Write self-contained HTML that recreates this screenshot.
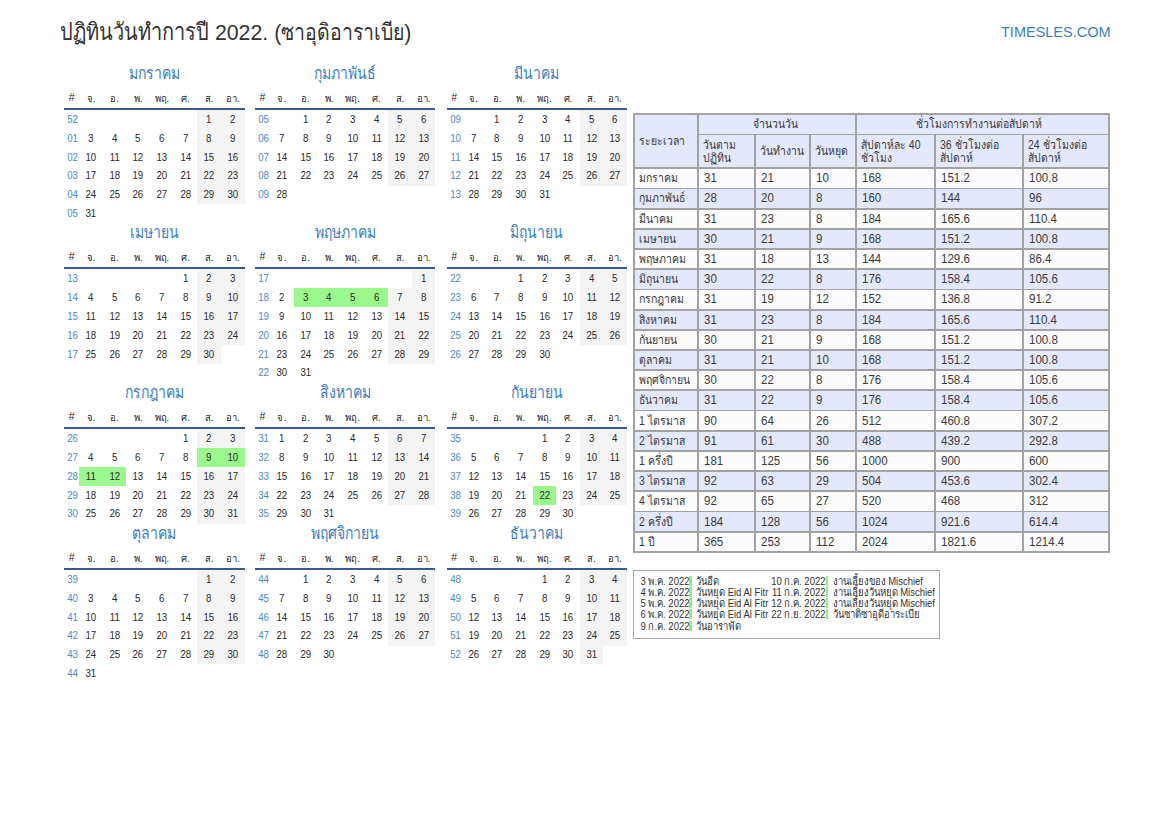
<!DOCTYPE html>
<html><head><meta charset="utf-8">
<style>
html,body{margin:0;padding:0;background:#fff;}
body{width:1169px;height:827px;position:relative;overflow:hidden;font-family:"Liberation Sans",sans-serif;color:#222;}
.th{display:inline-block;transform:scaleY(1.18);transform-origin:0 75%;}
.title{position:absolute;left:60px;top:18px;font-size:20px;line-height:30px;color:#333;white-space:nowrap;}
.la{font-size:21.3px;}
.t2{font-size:19.5px;}
.brand{position:absolute;left:1001px;top:23px;font-size:14.5px;color:#3a7fc1;white-space:nowrap;transform:scaleY(1.06);transform-origin:0 0;}
.mt{position:absolute;text-align:center;font-size:14px;color:#3d7ec2;line-height:20px;white-space:nowrap;}
.hd{position:absolute;text-align:center;font-size:9.5px;color:#2a2a2a;line-height:14px;white-space:nowrap;}
.hs{font-size:10.5px;}
.hth{display:inline-block;transform:scaleY(1.1);transform-origin:0 75%;}
.ln{position:absolute;height:2.2px;background:#3a5a8c;}
.wk{position:absolute;text-align:center;font-size:11px;color:#4a8bc8;line-height:18.8px;height:18.8px;transform:scaleX(.88);}
.dy{position:absolute;text-align:center;font-size:11px;color:#2a2a2a;line-height:18.8px;height:18.8px;transform:scaleX(.88);}
.we{position:absolute;height:19.3px;background:#f4f4f4;}
.ho{position:absolute;height:19.3px;background:#9af88c;}
.tb{position:absolute;}
.hb{background:#e4e8fc;}
.wb{background:#fcfcfc;}
.rb{background:#e4e8fc;}
.tl{position:absolute;background:#a2a2a2;}
.tt{position:absolute;font-size:12px;color:#3a3a3a;white-space:nowrap;transform:scaleX(.96);transform-origin:0 50%;}
.tt .th{font-size:10.5px;transform:scale(1.04,1.15);}
.tc{text-align:center;}
.h2{line-height:13.5px;}
.legend{position:absolute;left:632.5px;top:569.5px;width:307px;height:69.5px;border:1.5px solid #a8a8a8;box-sizing:border-box;}
.ld{position:absolute;font-size:9.5px;text-align:right;color:#333;line-height:11px;white-space:nowrap;transform:scaleY(1.2);transform-origin:0 80%;}
.lt{position:absolute;font-size:9.5px;color:#333;line-height:11px;white-space:nowrap;transform:scaleY(1.2);transform-origin:0 80%;}
.ea{}
.lb{position:absolute;width:2.5px;height:10px;background:#8ef07e;}
</style></head><body>
<div class="title"><span class="th">ปฏิทินวันทำการปี</span><span class="la"> 2022. (</span><span class="th t2">ซาอุดิอาราเบีย</span><span class="la">)</span></div>
<div class="brand">TIMESLES.COM</div>
<div class="mt" style="left:64px;top:64px;width:180.6px"><span class="th">มกราคม</span></div>
<div class="hd hs" style="left:64px;top:90px;width:15.2px">#</div>
<div class="hd" style="left:79.20px;top:91.5px;width:23.63px"><span class="hth">จ.</span></div>
<div class="hd" style="left:102.83px;top:91.5px;width:23.63px"><span class="hth">อ.</span></div>
<div class="hd" style="left:126.46px;top:91.5px;width:23.63px"><span class="hth">พ.</span></div>
<div class="hd" style="left:150.09px;top:91.5px;width:23.63px"><span class="hth">พฤ.</span></div>
<div class="hd" style="left:173.71px;top:91.5px;width:23.63px"><span class="hth">ศ.</span></div>
<div class="hd" style="left:197.34px;top:91.5px;width:23.63px"><span class="hth">ส.</span></div>
<div class="hd" style="left:220.97px;top:91.5px;width:23.63px"><span class="hth">อา.</span></div>
<div class="ln" style="left:64px;top:108px;width:180.6px"></div>
<div class="wk" style="left:65px;top:110.00px;width:15.2px">52</div>
<div class="we" style="left:197.34px;top:110.00px;width:23.63px"></div>
<div class="dy" style="left:197.34px;top:110.00px;width:23.63px">1</div>
<div class="we" style="left:220.97px;top:110.00px;width:23.63px"></div>
<div class="dy" style="left:220.97px;top:110.00px;width:23.63px">2</div>
<div class="wk" style="left:65px;top:128.80px;width:15.2px">01</div>
<div class="dy" style="left:79.20px;top:128.80px;width:23.63px">3</div>
<div class="dy" style="left:102.83px;top:128.80px;width:23.63px">4</div>
<div class="dy" style="left:126.46px;top:128.80px;width:23.63px">5</div>
<div class="dy" style="left:150.09px;top:128.80px;width:23.63px">6</div>
<div class="dy" style="left:173.71px;top:128.80px;width:23.63px">7</div>
<div class="we" style="left:197.34px;top:128.80px;width:23.63px"></div>
<div class="dy" style="left:197.34px;top:128.80px;width:23.63px">8</div>
<div class="we" style="left:220.97px;top:128.80px;width:23.63px"></div>
<div class="dy" style="left:220.97px;top:128.80px;width:23.63px">9</div>
<div class="wk" style="left:65px;top:147.60px;width:15.2px">02</div>
<div class="dy" style="left:79.20px;top:147.60px;width:23.63px">10</div>
<div class="dy" style="left:102.83px;top:147.60px;width:23.63px">11</div>
<div class="dy" style="left:126.46px;top:147.60px;width:23.63px">12</div>
<div class="dy" style="left:150.09px;top:147.60px;width:23.63px">13</div>
<div class="dy" style="left:173.71px;top:147.60px;width:23.63px">14</div>
<div class="we" style="left:197.34px;top:147.60px;width:23.63px"></div>
<div class="dy" style="left:197.34px;top:147.60px;width:23.63px">15</div>
<div class="we" style="left:220.97px;top:147.60px;width:23.63px"></div>
<div class="dy" style="left:220.97px;top:147.60px;width:23.63px">16</div>
<div class="wk" style="left:65px;top:166.40px;width:15.2px">03</div>
<div class="dy" style="left:79.20px;top:166.40px;width:23.63px">17</div>
<div class="dy" style="left:102.83px;top:166.40px;width:23.63px">18</div>
<div class="dy" style="left:126.46px;top:166.40px;width:23.63px">19</div>
<div class="dy" style="left:150.09px;top:166.40px;width:23.63px">20</div>
<div class="dy" style="left:173.71px;top:166.40px;width:23.63px">21</div>
<div class="we" style="left:197.34px;top:166.40px;width:23.63px"></div>
<div class="dy" style="left:197.34px;top:166.40px;width:23.63px">22</div>
<div class="we" style="left:220.97px;top:166.40px;width:23.63px"></div>
<div class="dy" style="left:220.97px;top:166.40px;width:23.63px">23</div>
<div class="wk" style="left:65px;top:185.20px;width:15.2px">04</div>
<div class="dy" style="left:79.20px;top:185.20px;width:23.63px">24</div>
<div class="dy" style="left:102.83px;top:185.20px;width:23.63px">25</div>
<div class="dy" style="left:126.46px;top:185.20px;width:23.63px">26</div>
<div class="dy" style="left:150.09px;top:185.20px;width:23.63px">27</div>
<div class="dy" style="left:173.71px;top:185.20px;width:23.63px">28</div>
<div class="we" style="left:197.34px;top:185.20px;width:23.63px"></div>
<div class="dy" style="left:197.34px;top:185.20px;width:23.63px">29</div>
<div class="we" style="left:220.97px;top:185.20px;width:23.63px"></div>
<div class="dy" style="left:220.97px;top:185.20px;width:23.63px">30</div>
<div class="wk" style="left:65px;top:204.00px;width:15.2px">05</div>
<div class="dy" style="left:79.20px;top:204.00px;width:23.63px">31</div>
<div class="mt" style="left:254.8px;top:64px;width:180.6px"><span class="th">กุมภาพันธ์</span></div>
<div class="hd hs" style="left:254.8px;top:90px;width:15.2px">#</div>
<div class="hd" style="left:270.00px;top:91.5px;width:23.63px"><span class="hth">จ.</span></div>
<div class="hd" style="left:293.63px;top:91.5px;width:23.63px"><span class="hth">อ.</span></div>
<div class="hd" style="left:317.26px;top:91.5px;width:23.63px"><span class="hth">พ.</span></div>
<div class="hd" style="left:340.89px;top:91.5px;width:23.63px"><span class="hth">พฤ.</span></div>
<div class="hd" style="left:364.51px;top:91.5px;width:23.63px"><span class="hth">ศ.</span></div>
<div class="hd" style="left:388.14px;top:91.5px;width:23.63px"><span class="hth">ส.</span></div>
<div class="hd" style="left:411.77px;top:91.5px;width:23.63px"><span class="hth">อา.</span></div>
<div class="ln" style="left:254.8px;top:108px;width:180.6px"></div>
<div class="wk" style="left:255.8px;top:110.00px;width:15.2px">05</div>
<div class="dy" style="left:293.63px;top:110.00px;width:23.63px">1</div>
<div class="dy" style="left:317.26px;top:110.00px;width:23.63px">2</div>
<div class="dy" style="left:340.89px;top:110.00px;width:23.63px">3</div>
<div class="dy" style="left:364.51px;top:110.00px;width:23.63px">4</div>
<div class="we" style="left:388.14px;top:110.00px;width:23.63px"></div>
<div class="dy" style="left:388.14px;top:110.00px;width:23.63px">5</div>
<div class="we" style="left:411.77px;top:110.00px;width:23.63px"></div>
<div class="dy" style="left:411.77px;top:110.00px;width:23.63px">6</div>
<div class="wk" style="left:255.8px;top:128.80px;width:15.2px">06</div>
<div class="dy" style="left:270.00px;top:128.80px;width:23.63px">7</div>
<div class="dy" style="left:293.63px;top:128.80px;width:23.63px">8</div>
<div class="dy" style="left:317.26px;top:128.80px;width:23.63px">9</div>
<div class="dy" style="left:340.89px;top:128.80px;width:23.63px">10</div>
<div class="dy" style="left:364.51px;top:128.80px;width:23.63px">11</div>
<div class="we" style="left:388.14px;top:128.80px;width:23.63px"></div>
<div class="dy" style="left:388.14px;top:128.80px;width:23.63px">12</div>
<div class="we" style="left:411.77px;top:128.80px;width:23.63px"></div>
<div class="dy" style="left:411.77px;top:128.80px;width:23.63px">13</div>
<div class="wk" style="left:255.8px;top:147.60px;width:15.2px">07</div>
<div class="dy" style="left:270.00px;top:147.60px;width:23.63px">14</div>
<div class="dy" style="left:293.63px;top:147.60px;width:23.63px">15</div>
<div class="dy" style="left:317.26px;top:147.60px;width:23.63px">16</div>
<div class="dy" style="left:340.89px;top:147.60px;width:23.63px">17</div>
<div class="dy" style="left:364.51px;top:147.60px;width:23.63px">18</div>
<div class="we" style="left:388.14px;top:147.60px;width:23.63px"></div>
<div class="dy" style="left:388.14px;top:147.60px;width:23.63px">19</div>
<div class="we" style="left:411.77px;top:147.60px;width:23.63px"></div>
<div class="dy" style="left:411.77px;top:147.60px;width:23.63px">20</div>
<div class="wk" style="left:255.8px;top:166.40px;width:15.2px">08</div>
<div class="dy" style="left:270.00px;top:166.40px;width:23.63px">21</div>
<div class="dy" style="left:293.63px;top:166.40px;width:23.63px">22</div>
<div class="dy" style="left:317.26px;top:166.40px;width:23.63px">23</div>
<div class="dy" style="left:340.89px;top:166.40px;width:23.63px">24</div>
<div class="dy" style="left:364.51px;top:166.40px;width:23.63px">25</div>
<div class="we" style="left:388.14px;top:166.40px;width:23.63px"></div>
<div class="dy" style="left:388.14px;top:166.40px;width:23.63px">26</div>
<div class="we" style="left:411.77px;top:166.40px;width:23.63px"></div>
<div class="dy" style="left:411.77px;top:166.40px;width:23.63px">27</div>
<div class="wk" style="left:255.8px;top:185.20px;width:15.2px">09</div>
<div class="dy" style="left:270.00px;top:185.20px;width:23.63px">28</div>
<div class="mt" style="left:446.6px;top:64px;width:180.3px"><span class="th">มีนาคม</span></div>
<div class="hd hs" style="left:446.6px;top:90px;width:15.2px">#</div>
<div class="hd" style="left:461.80px;top:91.5px;width:23.59px"><span class="hth">จ.</span></div>
<div class="hd" style="left:485.39px;top:91.5px;width:23.59px"><span class="hth">อ.</span></div>
<div class="hd" style="left:508.97px;top:91.5px;width:23.59px"><span class="hth">พ.</span></div>
<div class="hd" style="left:532.56px;top:91.5px;width:23.59px"><span class="hth">พฤ.</span></div>
<div class="hd" style="left:556.14px;top:91.5px;width:23.59px"><span class="hth">ศ.</span></div>
<div class="hd" style="left:579.73px;top:91.5px;width:23.59px"><span class="hth">ส.</span></div>
<div class="hd" style="left:603.31px;top:91.5px;width:23.59px"><span class="hth">อา.</span></div>
<div class="ln" style="left:446.6px;top:108px;width:180.3px"></div>
<div class="wk" style="left:447.6px;top:110.00px;width:15.2px">09</div>
<div class="dy" style="left:485.39px;top:110.00px;width:23.59px">1</div>
<div class="dy" style="left:508.97px;top:110.00px;width:23.59px">2</div>
<div class="dy" style="left:532.56px;top:110.00px;width:23.59px">3</div>
<div class="dy" style="left:556.14px;top:110.00px;width:23.59px">4</div>
<div class="we" style="left:579.73px;top:110.00px;width:23.59px"></div>
<div class="dy" style="left:579.73px;top:110.00px;width:23.59px">5</div>
<div class="we" style="left:603.31px;top:110.00px;width:23.59px"></div>
<div class="dy" style="left:603.31px;top:110.00px;width:23.59px">6</div>
<div class="wk" style="left:447.6px;top:128.80px;width:15.2px">10</div>
<div class="dy" style="left:461.80px;top:128.80px;width:23.59px">7</div>
<div class="dy" style="left:485.39px;top:128.80px;width:23.59px">8</div>
<div class="dy" style="left:508.97px;top:128.80px;width:23.59px">9</div>
<div class="dy" style="left:532.56px;top:128.80px;width:23.59px">10</div>
<div class="dy" style="left:556.14px;top:128.80px;width:23.59px">11</div>
<div class="we" style="left:579.73px;top:128.80px;width:23.59px"></div>
<div class="dy" style="left:579.73px;top:128.80px;width:23.59px">12</div>
<div class="we" style="left:603.31px;top:128.80px;width:23.59px"></div>
<div class="dy" style="left:603.31px;top:128.80px;width:23.59px">13</div>
<div class="wk" style="left:447.6px;top:147.60px;width:15.2px">11</div>
<div class="dy" style="left:461.80px;top:147.60px;width:23.59px">14</div>
<div class="dy" style="left:485.39px;top:147.60px;width:23.59px">15</div>
<div class="dy" style="left:508.97px;top:147.60px;width:23.59px">16</div>
<div class="dy" style="left:532.56px;top:147.60px;width:23.59px">17</div>
<div class="dy" style="left:556.14px;top:147.60px;width:23.59px">18</div>
<div class="we" style="left:579.73px;top:147.60px;width:23.59px"></div>
<div class="dy" style="left:579.73px;top:147.60px;width:23.59px">19</div>
<div class="we" style="left:603.31px;top:147.60px;width:23.59px"></div>
<div class="dy" style="left:603.31px;top:147.60px;width:23.59px">20</div>
<div class="wk" style="left:447.6px;top:166.40px;width:15.2px">12</div>
<div class="dy" style="left:461.80px;top:166.40px;width:23.59px">21</div>
<div class="dy" style="left:485.39px;top:166.40px;width:23.59px">22</div>
<div class="dy" style="left:508.97px;top:166.40px;width:23.59px">23</div>
<div class="dy" style="left:532.56px;top:166.40px;width:23.59px">24</div>
<div class="dy" style="left:556.14px;top:166.40px;width:23.59px">25</div>
<div class="we" style="left:579.73px;top:166.40px;width:23.59px"></div>
<div class="dy" style="left:579.73px;top:166.40px;width:23.59px">26</div>
<div class="we" style="left:603.31px;top:166.40px;width:23.59px"></div>
<div class="dy" style="left:603.31px;top:166.40px;width:23.59px">27</div>
<div class="wk" style="left:447.6px;top:185.20px;width:15.2px">13</div>
<div class="dy" style="left:461.80px;top:185.20px;width:23.59px">28</div>
<div class="dy" style="left:485.39px;top:185.20px;width:23.59px">29</div>
<div class="dy" style="left:508.97px;top:185.20px;width:23.59px">30</div>
<div class="dy" style="left:532.56px;top:185.20px;width:23.59px">31</div>
<div class="mt" style="left:64px;top:223.3px;width:180.6px"><span class="th">เมษายน</span></div>
<div class="hd hs" style="left:64px;top:249.3px;width:15.2px">#</div>
<div class="hd" style="left:79.20px;top:250.8px;width:23.63px"><span class="hth">จ.</span></div>
<div class="hd" style="left:102.83px;top:250.8px;width:23.63px"><span class="hth">อ.</span></div>
<div class="hd" style="left:126.46px;top:250.8px;width:23.63px"><span class="hth">พ.</span></div>
<div class="hd" style="left:150.09px;top:250.8px;width:23.63px"><span class="hth">พฤ.</span></div>
<div class="hd" style="left:173.71px;top:250.8px;width:23.63px"><span class="hth">ศ.</span></div>
<div class="hd" style="left:197.34px;top:250.8px;width:23.63px"><span class="hth">ส.</span></div>
<div class="hd" style="left:220.97px;top:250.8px;width:23.63px"><span class="hth">อา.</span></div>
<div class="ln" style="left:64px;top:267.3px;width:180.6px"></div>
<div class="wk" style="left:65px;top:269.30px;width:15.2px">13</div>
<div class="dy" style="left:173.71px;top:269.30px;width:23.63px">1</div>
<div class="we" style="left:197.34px;top:269.30px;width:23.63px"></div>
<div class="dy" style="left:197.34px;top:269.30px;width:23.63px">2</div>
<div class="we" style="left:220.97px;top:269.30px;width:23.63px"></div>
<div class="dy" style="left:220.97px;top:269.30px;width:23.63px">3</div>
<div class="wk" style="left:65px;top:288.10px;width:15.2px">14</div>
<div class="dy" style="left:79.20px;top:288.10px;width:23.63px">4</div>
<div class="dy" style="left:102.83px;top:288.10px;width:23.63px">5</div>
<div class="dy" style="left:126.46px;top:288.10px;width:23.63px">6</div>
<div class="dy" style="left:150.09px;top:288.10px;width:23.63px">7</div>
<div class="dy" style="left:173.71px;top:288.10px;width:23.63px">8</div>
<div class="we" style="left:197.34px;top:288.10px;width:23.63px"></div>
<div class="dy" style="left:197.34px;top:288.10px;width:23.63px">9</div>
<div class="we" style="left:220.97px;top:288.10px;width:23.63px"></div>
<div class="dy" style="left:220.97px;top:288.10px;width:23.63px">10</div>
<div class="wk" style="left:65px;top:306.90px;width:15.2px">15</div>
<div class="dy" style="left:79.20px;top:306.90px;width:23.63px">11</div>
<div class="dy" style="left:102.83px;top:306.90px;width:23.63px">12</div>
<div class="dy" style="left:126.46px;top:306.90px;width:23.63px">13</div>
<div class="dy" style="left:150.09px;top:306.90px;width:23.63px">14</div>
<div class="dy" style="left:173.71px;top:306.90px;width:23.63px">15</div>
<div class="we" style="left:197.34px;top:306.90px;width:23.63px"></div>
<div class="dy" style="left:197.34px;top:306.90px;width:23.63px">16</div>
<div class="we" style="left:220.97px;top:306.90px;width:23.63px"></div>
<div class="dy" style="left:220.97px;top:306.90px;width:23.63px">17</div>
<div class="wk" style="left:65px;top:325.70px;width:15.2px">16</div>
<div class="dy" style="left:79.20px;top:325.70px;width:23.63px">18</div>
<div class="dy" style="left:102.83px;top:325.70px;width:23.63px">19</div>
<div class="dy" style="left:126.46px;top:325.70px;width:23.63px">20</div>
<div class="dy" style="left:150.09px;top:325.70px;width:23.63px">21</div>
<div class="dy" style="left:173.71px;top:325.70px;width:23.63px">22</div>
<div class="we" style="left:197.34px;top:325.70px;width:23.63px"></div>
<div class="dy" style="left:197.34px;top:325.70px;width:23.63px">23</div>
<div class="we" style="left:220.97px;top:325.70px;width:23.63px"></div>
<div class="dy" style="left:220.97px;top:325.70px;width:23.63px">24</div>
<div class="wk" style="left:65px;top:344.50px;width:15.2px">17</div>
<div class="dy" style="left:79.20px;top:344.50px;width:23.63px">25</div>
<div class="dy" style="left:102.83px;top:344.50px;width:23.63px">26</div>
<div class="dy" style="left:126.46px;top:344.50px;width:23.63px">27</div>
<div class="dy" style="left:150.09px;top:344.50px;width:23.63px">28</div>
<div class="dy" style="left:173.71px;top:344.50px;width:23.63px">29</div>
<div class="we" style="left:197.34px;top:344.50px;width:23.63px"></div>
<div class="dy" style="left:197.34px;top:344.50px;width:23.63px">30</div>
<div class="mt" style="left:254.8px;top:223.3px;width:180.6px"><span class="th">พฤษภาคม</span></div>
<div class="hd hs" style="left:254.8px;top:249.3px;width:15.2px">#</div>
<div class="hd" style="left:270.00px;top:250.8px;width:23.63px"><span class="hth">จ.</span></div>
<div class="hd" style="left:293.63px;top:250.8px;width:23.63px"><span class="hth">อ.</span></div>
<div class="hd" style="left:317.26px;top:250.8px;width:23.63px"><span class="hth">พ.</span></div>
<div class="hd" style="left:340.89px;top:250.8px;width:23.63px"><span class="hth">พฤ.</span></div>
<div class="hd" style="left:364.51px;top:250.8px;width:23.63px"><span class="hth">ศ.</span></div>
<div class="hd" style="left:388.14px;top:250.8px;width:23.63px"><span class="hth">ส.</span></div>
<div class="hd" style="left:411.77px;top:250.8px;width:23.63px"><span class="hth">อา.</span></div>
<div class="ln" style="left:254.8px;top:267.3px;width:180.6px"></div>
<div class="wk" style="left:255.8px;top:269.30px;width:15.2px">17</div>
<div class="we" style="left:411.77px;top:269.30px;width:23.63px"></div>
<div class="dy" style="left:411.77px;top:269.30px;width:23.63px">1</div>
<div class="wk" style="left:255.8px;top:288.10px;width:15.2px">18</div>
<div class="dy" style="left:270.00px;top:288.10px;width:23.63px">2</div>
<div class="ho" style="left:293.63px;top:288.10px;width:23.63px"></div>
<div class="dy" style="left:293.63px;top:288.10px;width:23.63px">3</div>
<div class="ho" style="left:317.26px;top:288.10px;width:23.63px"></div>
<div class="dy" style="left:317.26px;top:288.10px;width:23.63px">4</div>
<div class="ho" style="left:340.89px;top:288.10px;width:23.63px"></div>
<div class="dy" style="left:340.89px;top:288.10px;width:23.63px">5</div>
<div class="ho" style="left:364.51px;top:288.10px;width:23.63px"></div>
<div class="dy" style="left:364.51px;top:288.10px;width:23.63px">6</div>
<div class="we" style="left:388.14px;top:288.10px;width:23.63px"></div>
<div class="dy" style="left:388.14px;top:288.10px;width:23.63px">7</div>
<div class="we" style="left:411.77px;top:288.10px;width:23.63px"></div>
<div class="dy" style="left:411.77px;top:288.10px;width:23.63px">8</div>
<div class="wk" style="left:255.8px;top:306.90px;width:15.2px">19</div>
<div class="dy" style="left:270.00px;top:306.90px;width:23.63px">9</div>
<div class="dy" style="left:293.63px;top:306.90px;width:23.63px">10</div>
<div class="dy" style="left:317.26px;top:306.90px;width:23.63px">11</div>
<div class="dy" style="left:340.89px;top:306.90px;width:23.63px">12</div>
<div class="dy" style="left:364.51px;top:306.90px;width:23.63px">13</div>
<div class="we" style="left:388.14px;top:306.90px;width:23.63px"></div>
<div class="dy" style="left:388.14px;top:306.90px;width:23.63px">14</div>
<div class="we" style="left:411.77px;top:306.90px;width:23.63px"></div>
<div class="dy" style="left:411.77px;top:306.90px;width:23.63px">15</div>
<div class="wk" style="left:255.8px;top:325.70px;width:15.2px">20</div>
<div class="dy" style="left:270.00px;top:325.70px;width:23.63px">16</div>
<div class="dy" style="left:293.63px;top:325.70px;width:23.63px">17</div>
<div class="dy" style="left:317.26px;top:325.70px;width:23.63px">18</div>
<div class="dy" style="left:340.89px;top:325.70px;width:23.63px">19</div>
<div class="dy" style="left:364.51px;top:325.70px;width:23.63px">20</div>
<div class="we" style="left:388.14px;top:325.70px;width:23.63px"></div>
<div class="dy" style="left:388.14px;top:325.70px;width:23.63px">21</div>
<div class="we" style="left:411.77px;top:325.70px;width:23.63px"></div>
<div class="dy" style="left:411.77px;top:325.70px;width:23.63px">22</div>
<div class="wk" style="left:255.8px;top:344.50px;width:15.2px">21</div>
<div class="dy" style="left:270.00px;top:344.50px;width:23.63px">23</div>
<div class="dy" style="left:293.63px;top:344.50px;width:23.63px">24</div>
<div class="dy" style="left:317.26px;top:344.50px;width:23.63px">25</div>
<div class="dy" style="left:340.89px;top:344.50px;width:23.63px">26</div>
<div class="dy" style="left:364.51px;top:344.50px;width:23.63px">27</div>
<div class="we" style="left:388.14px;top:344.50px;width:23.63px"></div>
<div class="dy" style="left:388.14px;top:344.50px;width:23.63px">28</div>
<div class="we" style="left:411.77px;top:344.50px;width:23.63px"></div>
<div class="dy" style="left:411.77px;top:344.50px;width:23.63px">29</div>
<div class="wk" style="left:255.8px;top:363.30px;width:15.2px">22</div>
<div class="dy" style="left:270.00px;top:363.30px;width:23.63px">30</div>
<div class="dy" style="left:293.63px;top:363.30px;width:23.63px">31</div>
<div class="mt" style="left:446.6px;top:223.3px;width:180.3px"><span class="th">มิถุนายน</span></div>
<div class="hd hs" style="left:446.6px;top:249.3px;width:15.2px">#</div>
<div class="hd" style="left:461.80px;top:250.8px;width:23.59px"><span class="hth">จ.</span></div>
<div class="hd" style="left:485.39px;top:250.8px;width:23.59px"><span class="hth">อ.</span></div>
<div class="hd" style="left:508.97px;top:250.8px;width:23.59px"><span class="hth">พ.</span></div>
<div class="hd" style="left:532.56px;top:250.8px;width:23.59px"><span class="hth">พฤ.</span></div>
<div class="hd" style="left:556.14px;top:250.8px;width:23.59px"><span class="hth">ศ.</span></div>
<div class="hd" style="left:579.73px;top:250.8px;width:23.59px"><span class="hth">ส.</span></div>
<div class="hd" style="left:603.31px;top:250.8px;width:23.59px"><span class="hth">อา.</span></div>
<div class="ln" style="left:446.6px;top:267.3px;width:180.3px"></div>
<div class="wk" style="left:447.6px;top:269.30px;width:15.2px">22</div>
<div class="dy" style="left:508.97px;top:269.30px;width:23.59px">1</div>
<div class="dy" style="left:532.56px;top:269.30px;width:23.59px">2</div>
<div class="dy" style="left:556.14px;top:269.30px;width:23.59px">3</div>
<div class="we" style="left:579.73px;top:269.30px;width:23.59px"></div>
<div class="dy" style="left:579.73px;top:269.30px;width:23.59px">4</div>
<div class="we" style="left:603.31px;top:269.30px;width:23.59px"></div>
<div class="dy" style="left:603.31px;top:269.30px;width:23.59px">5</div>
<div class="wk" style="left:447.6px;top:288.10px;width:15.2px">23</div>
<div class="dy" style="left:461.80px;top:288.10px;width:23.59px">6</div>
<div class="dy" style="left:485.39px;top:288.10px;width:23.59px">7</div>
<div class="dy" style="left:508.97px;top:288.10px;width:23.59px">8</div>
<div class="dy" style="left:532.56px;top:288.10px;width:23.59px">9</div>
<div class="dy" style="left:556.14px;top:288.10px;width:23.59px">10</div>
<div class="we" style="left:579.73px;top:288.10px;width:23.59px"></div>
<div class="dy" style="left:579.73px;top:288.10px;width:23.59px">11</div>
<div class="we" style="left:603.31px;top:288.10px;width:23.59px"></div>
<div class="dy" style="left:603.31px;top:288.10px;width:23.59px">12</div>
<div class="wk" style="left:447.6px;top:306.90px;width:15.2px">24</div>
<div class="dy" style="left:461.80px;top:306.90px;width:23.59px">13</div>
<div class="dy" style="left:485.39px;top:306.90px;width:23.59px">14</div>
<div class="dy" style="left:508.97px;top:306.90px;width:23.59px">15</div>
<div class="dy" style="left:532.56px;top:306.90px;width:23.59px">16</div>
<div class="dy" style="left:556.14px;top:306.90px;width:23.59px">17</div>
<div class="we" style="left:579.73px;top:306.90px;width:23.59px"></div>
<div class="dy" style="left:579.73px;top:306.90px;width:23.59px">18</div>
<div class="we" style="left:603.31px;top:306.90px;width:23.59px"></div>
<div class="dy" style="left:603.31px;top:306.90px;width:23.59px">19</div>
<div class="wk" style="left:447.6px;top:325.70px;width:15.2px">25</div>
<div class="dy" style="left:461.80px;top:325.70px;width:23.59px">20</div>
<div class="dy" style="left:485.39px;top:325.70px;width:23.59px">21</div>
<div class="dy" style="left:508.97px;top:325.70px;width:23.59px">22</div>
<div class="dy" style="left:532.56px;top:325.70px;width:23.59px">23</div>
<div class="dy" style="left:556.14px;top:325.70px;width:23.59px">24</div>
<div class="we" style="left:579.73px;top:325.70px;width:23.59px"></div>
<div class="dy" style="left:579.73px;top:325.70px;width:23.59px">25</div>
<div class="we" style="left:603.31px;top:325.70px;width:23.59px"></div>
<div class="dy" style="left:603.31px;top:325.70px;width:23.59px">26</div>
<div class="wk" style="left:447.6px;top:344.50px;width:15.2px">26</div>
<div class="dy" style="left:461.80px;top:344.50px;width:23.59px">27</div>
<div class="dy" style="left:485.39px;top:344.50px;width:23.59px">28</div>
<div class="dy" style="left:508.97px;top:344.50px;width:23.59px">29</div>
<div class="dy" style="left:532.56px;top:344.50px;width:23.59px">30</div>
<div class="mt" style="left:64px;top:383.1px;width:180.6px"><span class="th">กรกฎาคม</span></div>
<div class="hd hs" style="left:64px;top:409.1px;width:15.2px">#</div>
<div class="hd" style="left:79.20px;top:410.6px;width:23.63px"><span class="hth">จ.</span></div>
<div class="hd" style="left:102.83px;top:410.6px;width:23.63px"><span class="hth">อ.</span></div>
<div class="hd" style="left:126.46px;top:410.6px;width:23.63px"><span class="hth">พ.</span></div>
<div class="hd" style="left:150.09px;top:410.6px;width:23.63px"><span class="hth">พฤ.</span></div>
<div class="hd" style="left:173.71px;top:410.6px;width:23.63px"><span class="hth">ศ.</span></div>
<div class="hd" style="left:197.34px;top:410.6px;width:23.63px"><span class="hth">ส.</span></div>
<div class="hd" style="left:220.97px;top:410.6px;width:23.63px"><span class="hth">อา.</span></div>
<div class="ln" style="left:64px;top:427.1px;width:180.6px"></div>
<div class="wk" style="left:65px;top:429.10px;width:15.2px">26</div>
<div class="dy" style="left:173.71px;top:429.10px;width:23.63px">1</div>
<div class="we" style="left:197.34px;top:429.10px;width:23.63px"></div>
<div class="dy" style="left:197.34px;top:429.10px;width:23.63px">2</div>
<div class="we" style="left:220.97px;top:429.10px;width:23.63px"></div>
<div class="dy" style="left:220.97px;top:429.10px;width:23.63px">3</div>
<div class="wk" style="left:65px;top:447.90px;width:15.2px">27</div>
<div class="dy" style="left:79.20px;top:447.90px;width:23.63px">4</div>
<div class="dy" style="left:102.83px;top:447.90px;width:23.63px">5</div>
<div class="dy" style="left:126.46px;top:447.90px;width:23.63px">6</div>
<div class="dy" style="left:150.09px;top:447.90px;width:23.63px">7</div>
<div class="dy" style="left:173.71px;top:447.90px;width:23.63px">8</div>
<div class="ho" style="left:197.34px;top:447.90px;width:23.63px"></div>
<div class="dy" style="left:197.34px;top:447.90px;width:23.63px">9</div>
<div class="ho" style="left:220.97px;top:447.90px;width:23.63px"></div>
<div class="dy" style="left:220.97px;top:447.90px;width:23.63px">10</div>
<div class="wk" style="left:65px;top:466.70px;width:15.2px">28</div>
<div class="ho" style="left:79.20px;top:466.70px;width:23.63px"></div>
<div class="dy" style="left:79.20px;top:466.70px;width:23.63px">11</div>
<div class="ho" style="left:102.83px;top:466.70px;width:23.63px"></div>
<div class="dy" style="left:102.83px;top:466.70px;width:23.63px">12</div>
<div class="dy" style="left:126.46px;top:466.70px;width:23.63px">13</div>
<div class="dy" style="left:150.09px;top:466.70px;width:23.63px">14</div>
<div class="dy" style="left:173.71px;top:466.70px;width:23.63px">15</div>
<div class="we" style="left:197.34px;top:466.70px;width:23.63px"></div>
<div class="dy" style="left:197.34px;top:466.70px;width:23.63px">16</div>
<div class="we" style="left:220.97px;top:466.70px;width:23.63px"></div>
<div class="dy" style="left:220.97px;top:466.70px;width:23.63px">17</div>
<div class="wk" style="left:65px;top:485.50px;width:15.2px">29</div>
<div class="dy" style="left:79.20px;top:485.50px;width:23.63px">18</div>
<div class="dy" style="left:102.83px;top:485.50px;width:23.63px">19</div>
<div class="dy" style="left:126.46px;top:485.50px;width:23.63px">20</div>
<div class="dy" style="left:150.09px;top:485.50px;width:23.63px">21</div>
<div class="dy" style="left:173.71px;top:485.50px;width:23.63px">22</div>
<div class="we" style="left:197.34px;top:485.50px;width:23.63px"></div>
<div class="dy" style="left:197.34px;top:485.50px;width:23.63px">23</div>
<div class="we" style="left:220.97px;top:485.50px;width:23.63px"></div>
<div class="dy" style="left:220.97px;top:485.50px;width:23.63px">24</div>
<div class="wk" style="left:65px;top:504.30px;width:15.2px">30</div>
<div class="dy" style="left:79.20px;top:504.30px;width:23.63px">25</div>
<div class="dy" style="left:102.83px;top:504.30px;width:23.63px">26</div>
<div class="dy" style="left:126.46px;top:504.30px;width:23.63px">27</div>
<div class="dy" style="left:150.09px;top:504.30px;width:23.63px">28</div>
<div class="dy" style="left:173.71px;top:504.30px;width:23.63px">29</div>
<div class="we" style="left:197.34px;top:504.30px;width:23.63px"></div>
<div class="dy" style="left:197.34px;top:504.30px;width:23.63px">30</div>
<div class="we" style="left:220.97px;top:504.30px;width:23.63px"></div>
<div class="dy" style="left:220.97px;top:504.30px;width:23.63px">31</div>
<div class="mt" style="left:254.8px;top:383.1px;width:180.6px"><span class="th">สิงหาคม</span></div>
<div class="hd hs" style="left:254.8px;top:409.1px;width:15.2px">#</div>
<div class="hd" style="left:270.00px;top:410.6px;width:23.63px"><span class="hth">จ.</span></div>
<div class="hd" style="left:293.63px;top:410.6px;width:23.63px"><span class="hth">อ.</span></div>
<div class="hd" style="left:317.26px;top:410.6px;width:23.63px"><span class="hth">พ.</span></div>
<div class="hd" style="left:340.89px;top:410.6px;width:23.63px"><span class="hth">พฤ.</span></div>
<div class="hd" style="left:364.51px;top:410.6px;width:23.63px"><span class="hth">ศ.</span></div>
<div class="hd" style="left:388.14px;top:410.6px;width:23.63px"><span class="hth">ส.</span></div>
<div class="hd" style="left:411.77px;top:410.6px;width:23.63px"><span class="hth">อา.</span></div>
<div class="ln" style="left:254.8px;top:427.1px;width:180.6px"></div>
<div class="wk" style="left:255.8px;top:429.10px;width:15.2px">31</div>
<div class="dy" style="left:270.00px;top:429.10px;width:23.63px">1</div>
<div class="dy" style="left:293.63px;top:429.10px;width:23.63px">2</div>
<div class="dy" style="left:317.26px;top:429.10px;width:23.63px">3</div>
<div class="dy" style="left:340.89px;top:429.10px;width:23.63px">4</div>
<div class="dy" style="left:364.51px;top:429.10px;width:23.63px">5</div>
<div class="we" style="left:388.14px;top:429.10px;width:23.63px"></div>
<div class="dy" style="left:388.14px;top:429.10px;width:23.63px">6</div>
<div class="we" style="left:411.77px;top:429.10px;width:23.63px"></div>
<div class="dy" style="left:411.77px;top:429.10px;width:23.63px">7</div>
<div class="wk" style="left:255.8px;top:447.90px;width:15.2px">32</div>
<div class="dy" style="left:270.00px;top:447.90px;width:23.63px">8</div>
<div class="dy" style="left:293.63px;top:447.90px;width:23.63px">9</div>
<div class="dy" style="left:317.26px;top:447.90px;width:23.63px">10</div>
<div class="dy" style="left:340.89px;top:447.90px;width:23.63px">11</div>
<div class="dy" style="left:364.51px;top:447.90px;width:23.63px">12</div>
<div class="we" style="left:388.14px;top:447.90px;width:23.63px"></div>
<div class="dy" style="left:388.14px;top:447.90px;width:23.63px">13</div>
<div class="we" style="left:411.77px;top:447.90px;width:23.63px"></div>
<div class="dy" style="left:411.77px;top:447.90px;width:23.63px">14</div>
<div class="wk" style="left:255.8px;top:466.70px;width:15.2px">33</div>
<div class="dy" style="left:270.00px;top:466.70px;width:23.63px">15</div>
<div class="dy" style="left:293.63px;top:466.70px;width:23.63px">16</div>
<div class="dy" style="left:317.26px;top:466.70px;width:23.63px">17</div>
<div class="dy" style="left:340.89px;top:466.70px;width:23.63px">18</div>
<div class="dy" style="left:364.51px;top:466.70px;width:23.63px">19</div>
<div class="we" style="left:388.14px;top:466.70px;width:23.63px"></div>
<div class="dy" style="left:388.14px;top:466.70px;width:23.63px">20</div>
<div class="we" style="left:411.77px;top:466.70px;width:23.63px"></div>
<div class="dy" style="left:411.77px;top:466.70px;width:23.63px">21</div>
<div class="wk" style="left:255.8px;top:485.50px;width:15.2px">34</div>
<div class="dy" style="left:270.00px;top:485.50px;width:23.63px">22</div>
<div class="dy" style="left:293.63px;top:485.50px;width:23.63px">23</div>
<div class="dy" style="left:317.26px;top:485.50px;width:23.63px">24</div>
<div class="dy" style="left:340.89px;top:485.50px;width:23.63px">25</div>
<div class="dy" style="left:364.51px;top:485.50px;width:23.63px">26</div>
<div class="we" style="left:388.14px;top:485.50px;width:23.63px"></div>
<div class="dy" style="left:388.14px;top:485.50px;width:23.63px">27</div>
<div class="we" style="left:411.77px;top:485.50px;width:23.63px"></div>
<div class="dy" style="left:411.77px;top:485.50px;width:23.63px">28</div>
<div class="wk" style="left:255.8px;top:504.30px;width:15.2px">35</div>
<div class="dy" style="left:270.00px;top:504.30px;width:23.63px">29</div>
<div class="dy" style="left:293.63px;top:504.30px;width:23.63px">30</div>
<div class="dy" style="left:317.26px;top:504.30px;width:23.63px">31</div>
<div class="mt" style="left:446.6px;top:383.1px;width:180.3px"><span class="th">กันยายน</span></div>
<div class="hd hs" style="left:446.6px;top:409.1px;width:15.2px">#</div>
<div class="hd" style="left:461.80px;top:410.6px;width:23.59px"><span class="hth">จ.</span></div>
<div class="hd" style="left:485.39px;top:410.6px;width:23.59px"><span class="hth">อ.</span></div>
<div class="hd" style="left:508.97px;top:410.6px;width:23.59px"><span class="hth">พ.</span></div>
<div class="hd" style="left:532.56px;top:410.6px;width:23.59px"><span class="hth">พฤ.</span></div>
<div class="hd" style="left:556.14px;top:410.6px;width:23.59px"><span class="hth">ศ.</span></div>
<div class="hd" style="left:579.73px;top:410.6px;width:23.59px"><span class="hth">ส.</span></div>
<div class="hd" style="left:603.31px;top:410.6px;width:23.59px"><span class="hth">อา.</span></div>
<div class="ln" style="left:446.6px;top:427.1px;width:180.3px"></div>
<div class="wk" style="left:447.6px;top:429.10px;width:15.2px">35</div>
<div class="dy" style="left:532.56px;top:429.10px;width:23.59px">1</div>
<div class="dy" style="left:556.14px;top:429.10px;width:23.59px">2</div>
<div class="we" style="left:579.73px;top:429.10px;width:23.59px"></div>
<div class="dy" style="left:579.73px;top:429.10px;width:23.59px">3</div>
<div class="we" style="left:603.31px;top:429.10px;width:23.59px"></div>
<div class="dy" style="left:603.31px;top:429.10px;width:23.59px">4</div>
<div class="wk" style="left:447.6px;top:447.90px;width:15.2px">36</div>
<div class="dy" style="left:461.80px;top:447.90px;width:23.59px">5</div>
<div class="dy" style="left:485.39px;top:447.90px;width:23.59px">6</div>
<div class="dy" style="left:508.97px;top:447.90px;width:23.59px">7</div>
<div class="dy" style="left:532.56px;top:447.90px;width:23.59px">8</div>
<div class="dy" style="left:556.14px;top:447.90px;width:23.59px">9</div>
<div class="we" style="left:579.73px;top:447.90px;width:23.59px"></div>
<div class="dy" style="left:579.73px;top:447.90px;width:23.59px">10</div>
<div class="we" style="left:603.31px;top:447.90px;width:23.59px"></div>
<div class="dy" style="left:603.31px;top:447.90px;width:23.59px">11</div>
<div class="wk" style="left:447.6px;top:466.70px;width:15.2px">37</div>
<div class="dy" style="left:461.80px;top:466.70px;width:23.59px">12</div>
<div class="dy" style="left:485.39px;top:466.70px;width:23.59px">13</div>
<div class="dy" style="left:508.97px;top:466.70px;width:23.59px">14</div>
<div class="dy" style="left:532.56px;top:466.70px;width:23.59px">15</div>
<div class="dy" style="left:556.14px;top:466.70px;width:23.59px">16</div>
<div class="we" style="left:579.73px;top:466.70px;width:23.59px"></div>
<div class="dy" style="left:579.73px;top:466.70px;width:23.59px">17</div>
<div class="we" style="left:603.31px;top:466.70px;width:23.59px"></div>
<div class="dy" style="left:603.31px;top:466.70px;width:23.59px">18</div>
<div class="wk" style="left:447.6px;top:485.50px;width:15.2px">38</div>
<div class="dy" style="left:461.80px;top:485.50px;width:23.59px">19</div>
<div class="dy" style="left:485.39px;top:485.50px;width:23.59px">20</div>
<div class="dy" style="left:508.97px;top:485.50px;width:23.59px">21</div>
<div class="ho" style="left:532.56px;top:485.50px;width:23.59px"></div>
<div class="dy" style="left:532.56px;top:485.50px;width:23.59px">22</div>
<div class="dy" style="left:556.14px;top:485.50px;width:23.59px">23</div>
<div class="we" style="left:579.73px;top:485.50px;width:23.59px"></div>
<div class="dy" style="left:579.73px;top:485.50px;width:23.59px">24</div>
<div class="we" style="left:603.31px;top:485.50px;width:23.59px"></div>
<div class="dy" style="left:603.31px;top:485.50px;width:23.59px">25</div>
<div class="wk" style="left:447.6px;top:504.30px;width:15.2px">39</div>
<div class="dy" style="left:461.80px;top:504.30px;width:23.59px">26</div>
<div class="dy" style="left:485.39px;top:504.30px;width:23.59px">27</div>
<div class="dy" style="left:508.97px;top:504.30px;width:23.59px">28</div>
<div class="dy" style="left:532.56px;top:504.30px;width:23.59px">29</div>
<div class="dy" style="left:556.14px;top:504.30px;width:23.59px">30</div>
<div class="mt" style="left:64px;top:524px;width:180.6px"><span class="th">ตุลาคม</span></div>
<div class="hd hs" style="left:64px;top:550px;width:15.2px">#</div>
<div class="hd" style="left:79.20px;top:551.5px;width:23.63px"><span class="hth">จ.</span></div>
<div class="hd" style="left:102.83px;top:551.5px;width:23.63px"><span class="hth">อ.</span></div>
<div class="hd" style="left:126.46px;top:551.5px;width:23.63px"><span class="hth">พ.</span></div>
<div class="hd" style="left:150.09px;top:551.5px;width:23.63px"><span class="hth">พฤ.</span></div>
<div class="hd" style="left:173.71px;top:551.5px;width:23.63px"><span class="hth">ศ.</span></div>
<div class="hd" style="left:197.34px;top:551.5px;width:23.63px"><span class="hth">ส.</span></div>
<div class="hd" style="left:220.97px;top:551.5px;width:23.63px"><span class="hth">อา.</span></div>
<div class="ln" style="left:64px;top:568px;width:180.6px"></div>
<div class="wk" style="left:65px;top:570.00px;width:15.2px">39</div>
<div class="we" style="left:197.34px;top:570.00px;width:23.63px"></div>
<div class="dy" style="left:197.34px;top:570.00px;width:23.63px">1</div>
<div class="we" style="left:220.97px;top:570.00px;width:23.63px"></div>
<div class="dy" style="left:220.97px;top:570.00px;width:23.63px">2</div>
<div class="wk" style="left:65px;top:588.80px;width:15.2px">40</div>
<div class="dy" style="left:79.20px;top:588.80px;width:23.63px">3</div>
<div class="dy" style="left:102.83px;top:588.80px;width:23.63px">4</div>
<div class="dy" style="left:126.46px;top:588.80px;width:23.63px">5</div>
<div class="dy" style="left:150.09px;top:588.80px;width:23.63px">6</div>
<div class="dy" style="left:173.71px;top:588.80px;width:23.63px">7</div>
<div class="we" style="left:197.34px;top:588.80px;width:23.63px"></div>
<div class="dy" style="left:197.34px;top:588.80px;width:23.63px">8</div>
<div class="we" style="left:220.97px;top:588.80px;width:23.63px"></div>
<div class="dy" style="left:220.97px;top:588.80px;width:23.63px">9</div>
<div class="wk" style="left:65px;top:607.60px;width:15.2px">41</div>
<div class="dy" style="left:79.20px;top:607.60px;width:23.63px">10</div>
<div class="dy" style="left:102.83px;top:607.60px;width:23.63px">11</div>
<div class="dy" style="left:126.46px;top:607.60px;width:23.63px">12</div>
<div class="dy" style="left:150.09px;top:607.60px;width:23.63px">13</div>
<div class="dy" style="left:173.71px;top:607.60px;width:23.63px">14</div>
<div class="we" style="left:197.34px;top:607.60px;width:23.63px"></div>
<div class="dy" style="left:197.34px;top:607.60px;width:23.63px">15</div>
<div class="we" style="left:220.97px;top:607.60px;width:23.63px"></div>
<div class="dy" style="left:220.97px;top:607.60px;width:23.63px">16</div>
<div class="wk" style="left:65px;top:626.40px;width:15.2px">42</div>
<div class="dy" style="left:79.20px;top:626.40px;width:23.63px">17</div>
<div class="dy" style="left:102.83px;top:626.40px;width:23.63px">18</div>
<div class="dy" style="left:126.46px;top:626.40px;width:23.63px">19</div>
<div class="dy" style="left:150.09px;top:626.40px;width:23.63px">20</div>
<div class="dy" style="left:173.71px;top:626.40px;width:23.63px">21</div>
<div class="we" style="left:197.34px;top:626.40px;width:23.63px"></div>
<div class="dy" style="left:197.34px;top:626.40px;width:23.63px">22</div>
<div class="we" style="left:220.97px;top:626.40px;width:23.63px"></div>
<div class="dy" style="left:220.97px;top:626.40px;width:23.63px">23</div>
<div class="wk" style="left:65px;top:645.20px;width:15.2px">43</div>
<div class="dy" style="left:79.20px;top:645.20px;width:23.63px">24</div>
<div class="dy" style="left:102.83px;top:645.20px;width:23.63px">25</div>
<div class="dy" style="left:126.46px;top:645.20px;width:23.63px">26</div>
<div class="dy" style="left:150.09px;top:645.20px;width:23.63px">27</div>
<div class="dy" style="left:173.71px;top:645.20px;width:23.63px">28</div>
<div class="we" style="left:197.34px;top:645.20px;width:23.63px"></div>
<div class="dy" style="left:197.34px;top:645.20px;width:23.63px">29</div>
<div class="we" style="left:220.97px;top:645.20px;width:23.63px"></div>
<div class="dy" style="left:220.97px;top:645.20px;width:23.63px">30</div>
<div class="wk" style="left:65px;top:664.00px;width:15.2px">44</div>
<div class="dy" style="left:79.20px;top:664.00px;width:23.63px">31</div>
<div class="mt" style="left:254.8px;top:524px;width:180.6px"><span class="th">พฤศจิกายน</span></div>
<div class="hd hs" style="left:254.8px;top:550px;width:15.2px">#</div>
<div class="hd" style="left:270.00px;top:551.5px;width:23.63px"><span class="hth">จ.</span></div>
<div class="hd" style="left:293.63px;top:551.5px;width:23.63px"><span class="hth">อ.</span></div>
<div class="hd" style="left:317.26px;top:551.5px;width:23.63px"><span class="hth">พ.</span></div>
<div class="hd" style="left:340.89px;top:551.5px;width:23.63px"><span class="hth">พฤ.</span></div>
<div class="hd" style="left:364.51px;top:551.5px;width:23.63px"><span class="hth">ศ.</span></div>
<div class="hd" style="left:388.14px;top:551.5px;width:23.63px"><span class="hth">ส.</span></div>
<div class="hd" style="left:411.77px;top:551.5px;width:23.63px"><span class="hth">อา.</span></div>
<div class="ln" style="left:254.8px;top:568px;width:180.6px"></div>
<div class="wk" style="left:255.8px;top:570.00px;width:15.2px">44</div>
<div class="dy" style="left:293.63px;top:570.00px;width:23.63px">1</div>
<div class="dy" style="left:317.26px;top:570.00px;width:23.63px">2</div>
<div class="dy" style="left:340.89px;top:570.00px;width:23.63px">3</div>
<div class="dy" style="left:364.51px;top:570.00px;width:23.63px">4</div>
<div class="we" style="left:388.14px;top:570.00px;width:23.63px"></div>
<div class="dy" style="left:388.14px;top:570.00px;width:23.63px">5</div>
<div class="we" style="left:411.77px;top:570.00px;width:23.63px"></div>
<div class="dy" style="left:411.77px;top:570.00px;width:23.63px">6</div>
<div class="wk" style="left:255.8px;top:588.80px;width:15.2px">45</div>
<div class="dy" style="left:270.00px;top:588.80px;width:23.63px">7</div>
<div class="dy" style="left:293.63px;top:588.80px;width:23.63px">8</div>
<div class="dy" style="left:317.26px;top:588.80px;width:23.63px">9</div>
<div class="dy" style="left:340.89px;top:588.80px;width:23.63px">10</div>
<div class="dy" style="left:364.51px;top:588.80px;width:23.63px">11</div>
<div class="we" style="left:388.14px;top:588.80px;width:23.63px"></div>
<div class="dy" style="left:388.14px;top:588.80px;width:23.63px">12</div>
<div class="we" style="left:411.77px;top:588.80px;width:23.63px"></div>
<div class="dy" style="left:411.77px;top:588.80px;width:23.63px">13</div>
<div class="wk" style="left:255.8px;top:607.60px;width:15.2px">46</div>
<div class="dy" style="left:270.00px;top:607.60px;width:23.63px">14</div>
<div class="dy" style="left:293.63px;top:607.60px;width:23.63px">15</div>
<div class="dy" style="left:317.26px;top:607.60px;width:23.63px">16</div>
<div class="dy" style="left:340.89px;top:607.60px;width:23.63px">17</div>
<div class="dy" style="left:364.51px;top:607.60px;width:23.63px">18</div>
<div class="we" style="left:388.14px;top:607.60px;width:23.63px"></div>
<div class="dy" style="left:388.14px;top:607.60px;width:23.63px">19</div>
<div class="we" style="left:411.77px;top:607.60px;width:23.63px"></div>
<div class="dy" style="left:411.77px;top:607.60px;width:23.63px">20</div>
<div class="wk" style="left:255.8px;top:626.40px;width:15.2px">47</div>
<div class="dy" style="left:270.00px;top:626.40px;width:23.63px">21</div>
<div class="dy" style="left:293.63px;top:626.40px;width:23.63px">22</div>
<div class="dy" style="left:317.26px;top:626.40px;width:23.63px">23</div>
<div class="dy" style="left:340.89px;top:626.40px;width:23.63px">24</div>
<div class="dy" style="left:364.51px;top:626.40px;width:23.63px">25</div>
<div class="we" style="left:388.14px;top:626.40px;width:23.63px"></div>
<div class="dy" style="left:388.14px;top:626.40px;width:23.63px">26</div>
<div class="we" style="left:411.77px;top:626.40px;width:23.63px"></div>
<div class="dy" style="left:411.77px;top:626.40px;width:23.63px">27</div>
<div class="wk" style="left:255.8px;top:645.20px;width:15.2px">48</div>
<div class="dy" style="left:270.00px;top:645.20px;width:23.63px">28</div>
<div class="dy" style="left:293.63px;top:645.20px;width:23.63px">29</div>
<div class="dy" style="left:317.26px;top:645.20px;width:23.63px">30</div>
<div class="mt" style="left:446.6px;top:524px;width:180.3px"><span class="th">ธันวาคม</span></div>
<div class="hd hs" style="left:446.6px;top:550px;width:15.2px">#</div>
<div class="hd" style="left:461.80px;top:551.5px;width:23.59px"><span class="hth">จ.</span></div>
<div class="hd" style="left:485.39px;top:551.5px;width:23.59px"><span class="hth">อ.</span></div>
<div class="hd" style="left:508.97px;top:551.5px;width:23.59px"><span class="hth">พ.</span></div>
<div class="hd" style="left:532.56px;top:551.5px;width:23.59px"><span class="hth">พฤ.</span></div>
<div class="hd" style="left:556.14px;top:551.5px;width:23.59px"><span class="hth">ศ.</span></div>
<div class="hd" style="left:579.73px;top:551.5px;width:23.59px"><span class="hth">ส.</span></div>
<div class="hd" style="left:603.31px;top:551.5px;width:23.59px"><span class="hth">อา.</span></div>
<div class="ln" style="left:446.6px;top:568px;width:180.3px"></div>
<div class="wk" style="left:447.6px;top:570.00px;width:15.2px">48</div>
<div class="dy" style="left:532.56px;top:570.00px;width:23.59px">1</div>
<div class="dy" style="left:556.14px;top:570.00px;width:23.59px">2</div>
<div class="we" style="left:579.73px;top:570.00px;width:23.59px"></div>
<div class="dy" style="left:579.73px;top:570.00px;width:23.59px">3</div>
<div class="we" style="left:603.31px;top:570.00px;width:23.59px"></div>
<div class="dy" style="left:603.31px;top:570.00px;width:23.59px">4</div>
<div class="wk" style="left:447.6px;top:588.80px;width:15.2px">49</div>
<div class="dy" style="left:461.80px;top:588.80px;width:23.59px">5</div>
<div class="dy" style="left:485.39px;top:588.80px;width:23.59px">6</div>
<div class="dy" style="left:508.97px;top:588.80px;width:23.59px">7</div>
<div class="dy" style="left:532.56px;top:588.80px;width:23.59px">8</div>
<div class="dy" style="left:556.14px;top:588.80px;width:23.59px">9</div>
<div class="we" style="left:579.73px;top:588.80px;width:23.59px"></div>
<div class="dy" style="left:579.73px;top:588.80px;width:23.59px">10</div>
<div class="we" style="left:603.31px;top:588.80px;width:23.59px"></div>
<div class="dy" style="left:603.31px;top:588.80px;width:23.59px">11</div>
<div class="wk" style="left:447.6px;top:607.60px;width:15.2px">50</div>
<div class="dy" style="left:461.80px;top:607.60px;width:23.59px">12</div>
<div class="dy" style="left:485.39px;top:607.60px;width:23.59px">13</div>
<div class="dy" style="left:508.97px;top:607.60px;width:23.59px">14</div>
<div class="dy" style="left:532.56px;top:607.60px;width:23.59px">15</div>
<div class="dy" style="left:556.14px;top:607.60px;width:23.59px">16</div>
<div class="we" style="left:579.73px;top:607.60px;width:23.59px"></div>
<div class="dy" style="left:579.73px;top:607.60px;width:23.59px">17</div>
<div class="we" style="left:603.31px;top:607.60px;width:23.59px"></div>
<div class="dy" style="left:603.31px;top:607.60px;width:23.59px">18</div>
<div class="wk" style="left:447.6px;top:626.40px;width:15.2px">51</div>
<div class="dy" style="left:461.80px;top:626.40px;width:23.59px">19</div>
<div class="dy" style="left:485.39px;top:626.40px;width:23.59px">20</div>
<div class="dy" style="left:508.97px;top:626.40px;width:23.59px">21</div>
<div class="dy" style="left:532.56px;top:626.40px;width:23.59px">22</div>
<div class="dy" style="left:556.14px;top:626.40px;width:23.59px">23</div>
<div class="we" style="left:579.73px;top:626.40px;width:23.59px"></div>
<div class="dy" style="left:579.73px;top:626.40px;width:23.59px">24</div>
<div class="we" style="left:603.31px;top:626.40px;width:23.59px"></div>
<div class="dy" style="left:603.31px;top:626.40px;width:23.59px">25</div>
<div class="wk" style="left:447.6px;top:645.20px;width:15.2px">52</div>
<div class="dy" style="left:461.80px;top:645.20px;width:23.59px">26</div>
<div class="dy" style="left:485.39px;top:645.20px;width:23.59px">27</div>
<div class="dy" style="left:508.97px;top:645.20px;width:23.59px">28</div>
<div class="dy" style="left:532.56px;top:645.20px;width:23.59px">29</div>
<div class="dy" style="left:556.14px;top:645.20px;width:23.59px">30</div>
<div class="we" style="left:579.73px;top:645.20px;width:23.59px"></div>
<div class="dy" style="left:579.73px;top:645.20px;width:23.59px">31</div>
<div class="tb hb" style="left:633.70px;top:114.30px;width:475.35px;height:54.00px"></div>
<div class="tb wb" style="left:633.70px;top:168.30px;width:475.35px;height:20.19px"></div>
<div class="tt" style="left:638.70px;top:169.30px;height:18.19px;line-height:18.19px"><span class="th">มกราคม</span></div>
<div class="tt" style="left:704.20px;top:169.30px;height:18.19px;line-height:18.19px">31</div>
<div class="tt" style="left:761.35px;top:169.30px;height:18.19px;line-height:18.19px">21</div>
<div class="tt" style="left:816.30px;top:169.30px;height:18.19px;line-height:18.19px">10</div>
<div class="tt" style="left:862.20px;top:169.30px;height:18.19px;line-height:18.19px">168</div>
<div class="tt" style="left:941.05px;top:169.30px;height:18.19px;line-height:18.19px">151.2</div>
<div class="tt" style="left:1028.65px;top:169.30px;height:18.19px;line-height:18.19px">100.8</div>
<div class="tb rb" style="left:633.70px;top:188.49px;width:475.35px;height:20.19px"></div>
<div class="tt" style="left:638.70px;top:189.49px;height:18.19px;line-height:18.19px"><span class="th">กุมภาพันธ์</span></div>
<div class="tt" style="left:704.20px;top:189.49px;height:18.19px;line-height:18.19px">28</div>
<div class="tt" style="left:761.35px;top:189.49px;height:18.19px;line-height:18.19px">20</div>
<div class="tt" style="left:816.30px;top:189.49px;height:18.19px;line-height:18.19px">8</div>
<div class="tt" style="left:862.20px;top:189.49px;height:18.19px;line-height:18.19px">160</div>
<div class="tt" style="left:941.05px;top:189.49px;height:18.19px;line-height:18.19px">144</div>
<div class="tt" style="left:1028.65px;top:189.49px;height:18.19px;line-height:18.19px">96</div>
<div class="tb wb" style="left:633.70px;top:208.68px;width:475.35px;height:20.19px"></div>
<div class="tt" style="left:638.70px;top:209.68px;height:18.19px;line-height:18.19px"><span class="th">มีนาคม</span></div>
<div class="tt" style="left:704.20px;top:209.68px;height:18.19px;line-height:18.19px">31</div>
<div class="tt" style="left:761.35px;top:209.68px;height:18.19px;line-height:18.19px">23</div>
<div class="tt" style="left:816.30px;top:209.68px;height:18.19px;line-height:18.19px">8</div>
<div class="tt" style="left:862.20px;top:209.68px;height:18.19px;line-height:18.19px">184</div>
<div class="tt" style="left:941.05px;top:209.68px;height:18.19px;line-height:18.19px">165.6</div>
<div class="tt" style="left:1028.65px;top:209.68px;height:18.19px;line-height:18.19px">110.4</div>
<div class="tb rb" style="left:633.70px;top:228.87px;width:475.35px;height:20.19px"></div>
<div class="tt" style="left:638.70px;top:229.87px;height:18.19px;line-height:18.19px"><span class="th">เมษายน</span></div>
<div class="tt" style="left:704.20px;top:229.87px;height:18.19px;line-height:18.19px">30</div>
<div class="tt" style="left:761.35px;top:229.87px;height:18.19px;line-height:18.19px">21</div>
<div class="tt" style="left:816.30px;top:229.87px;height:18.19px;line-height:18.19px">9</div>
<div class="tt" style="left:862.20px;top:229.87px;height:18.19px;line-height:18.19px">168</div>
<div class="tt" style="left:941.05px;top:229.87px;height:18.19px;line-height:18.19px">151.2</div>
<div class="tt" style="left:1028.65px;top:229.87px;height:18.19px;line-height:18.19px">100.8</div>
<div class="tb wb" style="left:633.70px;top:249.06px;width:475.35px;height:20.19px"></div>
<div class="tt" style="left:638.70px;top:250.06px;height:18.19px;line-height:18.19px"><span class="th">พฤษภาคม</span></div>
<div class="tt" style="left:704.20px;top:250.06px;height:18.19px;line-height:18.19px">31</div>
<div class="tt" style="left:761.35px;top:250.06px;height:18.19px;line-height:18.19px">18</div>
<div class="tt" style="left:816.30px;top:250.06px;height:18.19px;line-height:18.19px">13</div>
<div class="tt" style="left:862.20px;top:250.06px;height:18.19px;line-height:18.19px">144</div>
<div class="tt" style="left:941.05px;top:250.06px;height:18.19px;line-height:18.19px">129.6</div>
<div class="tt" style="left:1028.65px;top:250.06px;height:18.19px;line-height:18.19px">86.4</div>
<div class="tb rb" style="left:633.70px;top:269.25px;width:475.35px;height:20.19px"></div>
<div class="tt" style="left:638.70px;top:270.25px;height:18.19px;line-height:18.19px"><span class="th">มิถุนายน</span></div>
<div class="tt" style="left:704.20px;top:270.25px;height:18.19px;line-height:18.19px">30</div>
<div class="tt" style="left:761.35px;top:270.25px;height:18.19px;line-height:18.19px">22</div>
<div class="tt" style="left:816.30px;top:270.25px;height:18.19px;line-height:18.19px">8</div>
<div class="tt" style="left:862.20px;top:270.25px;height:18.19px;line-height:18.19px">176</div>
<div class="tt" style="left:941.05px;top:270.25px;height:18.19px;line-height:18.19px">158.4</div>
<div class="tt" style="left:1028.65px;top:270.25px;height:18.19px;line-height:18.19px">105.6</div>
<div class="tb wb" style="left:633.70px;top:289.44px;width:475.35px;height:20.19px"></div>
<div class="tt" style="left:638.70px;top:290.44px;height:18.19px;line-height:18.19px"><span class="th">กรกฎาคม</span></div>
<div class="tt" style="left:704.20px;top:290.44px;height:18.19px;line-height:18.19px">31</div>
<div class="tt" style="left:761.35px;top:290.44px;height:18.19px;line-height:18.19px">19</div>
<div class="tt" style="left:816.30px;top:290.44px;height:18.19px;line-height:18.19px">12</div>
<div class="tt" style="left:862.20px;top:290.44px;height:18.19px;line-height:18.19px">152</div>
<div class="tt" style="left:941.05px;top:290.44px;height:18.19px;line-height:18.19px">136.8</div>
<div class="tt" style="left:1028.65px;top:290.44px;height:18.19px;line-height:18.19px">91.2</div>
<div class="tb rb" style="left:633.70px;top:309.63px;width:475.35px;height:20.19px"></div>
<div class="tt" style="left:638.70px;top:310.63px;height:18.19px;line-height:18.19px"><span class="th">สิงหาคม</span></div>
<div class="tt" style="left:704.20px;top:310.63px;height:18.19px;line-height:18.19px">31</div>
<div class="tt" style="left:761.35px;top:310.63px;height:18.19px;line-height:18.19px">23</div>
<div class="tt" style="left:816.30px;top:310.63px;height:18.19px;line-height:18.19px">8</div>
<div class="tt" style="left:862.20px;top:310.63px;height:18.19px;line-height:18.19px">184</div>
<div class="tt" style="left:941.05px;top:310.63px;height:18.19px;line-height:18.19px">165.6</div>
<div class="tt" style="left:1028.65px;top:310.63px;height:18.19px;line-height:18.19px">110.4</div>
<div class="tb wb" style="left:633.70px;top:329.82px;width:475.35px;height:20.19px"></div>
<div class="tt" style="left:638.70px;top:330.82px;height:18.19px;line-height:18.19px"><span class="th">กันยายน</span></div>
<div class="tt" style="left:704.20px;top:330.82px;height:18.19px;line-height:18.19px">30</div>
<div class="tt" style="left:761.35px;top:330.82px;height:18.19px;line-height:18.19px">21</div>
<div class="tt" style="left:816.30px;top:330.82px;height:18.19px;line-height:18.19px">9</div>
<div class="tt" style="left:862.20px;top:330.82px;height:18.19px;line-height:18.19px">168</div>
<div class="tt" style="left:941.05px;top:330.82px;height:18.19px;line-height:18.19px">151.2</div>
<div class="tt" style="left:1028.65px;top:330.82px;height:18.19px;line-height:18.19px">100.8</div>
<div class="tb rb" style="left:633.70px;top:350.01px;width:475.35px;height:20.19px"></div>
<div class="tt" style="left:638.70px;top:351.01px;height:18.19px;line-height:18.19px"><span class="th">ตุลาคม</span></div>
<div class="tt" style="left:704.20px;top:351.01px;height:18.19px;line-height:18.19px">31</div>
<div class="tt" style="left:761.35px;top:351.01px;height:18.19px;line-height:18.19px">21</div>
<div class="tt" style="left:816.30px;top:351.01px;height:18.19px;line-height:18.19px">10</div>
<div class="tt" style="left:862.20px;top:351.01px;height:18.19px;line-height:18.19px">168</div>
<div class="tt" style="left:941.05px;top:351.01px;height:18.19px;line-height:18.19px">151.2</div>
<div class="tt" style="left:1028.65px;top:351.01px;height:18.19px;line-height:18.19px">100.8</div>
<div class="tb wb" style="left:633.70px;top:370.20px;width:475.35px;height:20.19px"></div>
<div class="tt" style="left:638.70px;top:371.20px;height:18.19px;line-height:18.19px"><span class="th">พฤศจิกายน</span></div>
<div class="tt" style="left:704.20px;top:371.20px;height:18.19px;line-height:18.19px">30</div>
<div class="tt" style="left:761.35px;top:371.20px;height:18.19px;line-height:18.19px">22</div>
<div class="tt" style="left:816.30px;top:371.20px;height:18.19px;line-height:18.19px">8</div>
<div class="tt" style="left:862.20px;top:371.20px;height:18.19px;line-height:18.19px">176</div>
<div class="tt" style="left:941.05px;top:371.20px;height:18.19px;line-height:18.19px">158.4</div>
<div class="tt" style="left:1028.65px;top:371.20px;height:18.19px;line-height:18.19px">105.6</div>
<div class="tb rb" style="left:633.70px;top:390.39px;width:475.35px;height:20.19px"></div>
<div class="tt" style="left:638.70px;top:391.39px;height:18.19px;line-height:18.19px"><span class="th">ธันวาคม</span></div>
<div class="tt" style="left:704.20px;top:391.39px;height:18.19px;line-height:18.19px">31</div>
<div class="tt" style="left:761.35px;top:391.39px;height:18.19px;line-height:18.19px">22</div>
<div class="tt" style="left:816.30px;top:391.39px;height:18.19px;line-height:18.19px">9</div>
<div class="tt" style="left:862.20px;top:391.39px;height:18.19px;line-height:18.19px">176</div>
<div class="tt" style="left:941.05px;top:391.39px;height:18.19px;line-height:18.19px">158.4</div>
<div class="tt" style="left:1028.65px;top:391.39px;height:18.19px;line-height:18.19px">105.6</div>
<div class="tb wb" style="left:633.70px;top:410.58px;width:475.35px;height:20.19px"></div>
<div class="tt" style="left:638.70px;top:411.58px;height:18.19px;line-height:18.19px"><span class="th">1 ไตรมาส</span></div>
<div class="tt" style="left:704.20px;top:411.58px;height:18.19px;line-height:18.19px">90</div>
<div class="tt" style="left:761.35px;top:411.58px;height:18.19px;line-height:18.19px">64</div>
<div class="tt" style="left:816.30px;top:411.58px;height:18.19px;line-height:18.19px">26</div>
<div class="tt" style="left:862.20px;top:411.58px;height:18.19px;line-height:18.19px">512</div>
<div class="tt" style="left:941.05px;top:411.58px;height:18.19px;line-height:18.19px">460.8</div>
<div class="tt" style="left:1028.65px;top:411.58px;height:18.19px;line-height:18.19px">307.2</div>
<div class="tb rb" style="left:633.70px;top:430.77px;width:475.35px;height:20.19px"></div>
<div class="tt" style="left:638.70px;top:431.77px;height:18.19px;line-height:18.19px"><span class="th">2 ไตรมาส</span></div>
<div class="tt" style="left:704.20px;top:431.77px;height:18.19px;line-height:18.19px">91</div>
<div class="tt" style="left:761.35px;top:431.77px;height:18.19px;line-height:18.19px">61</div>
<div class="tt" style="left:816.30px;top:431.77px;height:18.19px;line-height:18.19px">30</div>
<div class="tt" style="left:862.20px;top:431.77px;height:18.19px;line-height:18.19px">488</div>
<div class="tt" style="left:941.05px;top:431.77px;height:18.19px;line-height:18.19px">439.2</div>
<div class="tt" style="left:1028.65px;top:431.77px;height:18.19px;line-height:18.19px">292.8</div>
<div class="tb wb" style="left:633.70px;top:450.96px;width:475.35px;height:20.19px"></div>
<div class="tt" style="left:638.70px;top:451.96px;height:18.19px;line-height:18.19px"><span class="th">1 ครึ่งปี</span></div>
<div class="tt" style="left:704.20px;top:451.96px;height:18.19px;line-height:18.19px">181</div>
<div class="tt" style="left:761.35px;top:451.96px;height:18.19px;line-height:18.19px">125</div>
<div class="tt" style="left:816.30px;top:451.96px;height:18.19px;line-height:18.19px">56</div>
<div class="tt" style="left:862.20px;top:451.96px;height:18.19px;line-height:18.19px">1000</div>
<div class="tt" style="left:941.05px;top:451.96px;height:18.19px;line-height:18.19px">900</div>
<div class="tt" style="left:1028.65px;top:451.96px;height:18.19px;line-height:18.19px">600</div>
<div class="tb rb" style="left:633.70px;top:471.15px;width:475.35px;height:20.19px"></div>
<div class="tt" style="left:638.70px;top:472.15px;height:18.19px;line-height:18.19px"><span class="th">3 ไตรมาส</span></div>
<div class="tt" style="left:704.20px;top:472.15px;height:18.19px;line-height:18.19px">92</div>
<div class="tt" style="left:761.35px;top:472.15px;height:18.19px;line-height:18.19px">63</div>
<div class="tt" style="left:816.30px;top:472.15px;height:18.19px;line-height:18.19px">29</div>
<div class="tt" style="left:862.20px;top:472.15px;height:18.19px;line-height:18.19px">504</div>
<div class="tt" style="left:941.05px;top:472.15px;height:18.19px;line-height:18.19px">453.6</div>
<div class="tt" style="left:1028.65px;top:472.15px;height:18.19px;line-height:18.19px">302.4</div>
<div class="tb wb" style="left:633.70px;top:491.34px;width:475.35px;height:20.19px"></div>
<div class="tt" style="left:638.70px;top:492.34px;height:18.19px;line-height:18.19px"><span class="th">4 ไตรมาส</span></div>
<div class="tt" style="left:704.20px;top:492.34px;height:18.19px;line-height:18.19px">92</div>
<div class="tt" style="left:761.35px;top:492.34px;height:18.19px;line-height:18.19px">65</div>
<div class="tt" style="left:816.30px;top:492.34px;height:18.19px;line-height:18.19px">27</div>
<div class="tt" style="left:862.20px;top:492.34px;height:18.19px;line-height:18.19px">520</div>
<div class="tt" style="left:941.05px;top:492.34px;height:18.19px;line-height:18.19px">468</div>
<div class="tt" style="left:1028.65px;top:492.34px;height:18.19px;line-height:18.19px">312</div>
<div class="tb rb" style="left:633.70px;top:511.53px;width:475.35px;height:20.19px"></div>
<div class="tt" style="left:638.70px;top:512.53px;height:18.19px;line-height:18.19px"><span class="th">2 ครึ่งปี</span></div>
<div class="tt" style="left:704.20px;top:512.53px;height:18.19px;line-height:18.19px">184</div>
<div class="tt" style="left:761.35px;top:512.53px;height:18.19px;line-height:18.19px">128</div>
<div class="tt" style="left:816.30px;top:512.53px;height:18.19px;line-height:18.19px">56</div>
<div class="tt" style="left:862.20px;top:512.53px;height:18.19px;line-height:18.19px">1024</div>
<div class="tt" style="left:941.05px;top:512.53px;height:18.19px;line-height:18.19px">921.6</div>
<div class="tt" style="left:1028.65px;top:512.53px;height:18.19px;line-height:18.19px">614.4</div>
<div class="tb wb" style="left:633.70px;top:531.72px;width:475.35px;height:20.19px"></div>
<div class="tt" style="left:638.70px;top:532.72px;height:18.19px;line-height:18.19px"><span class="th">1 ปี</span></div>
<div class="tt" style="left:704.20px;top:532.72px;height:18.19px;line-height:18.19px">365</div>
<div class="tt" style="left:761.35px;top:532.72px;height:18.19px;line-height:18.19px">253</div>
<div class="tt" style="left:816.30px;top:532.72px;height:18.19px;line-height:18.19px">112</div>
<div class="tt" style="left:862.20px;top:532.72px;height:18.19px;line-height:18.19px">2024</div>
<div class="tt" style="left:941.05px;top:532.72px;height:18.19px;line-height:18.19px">1821.6</div>
<div class="tt" style="left:1028.65px;top:532.72px;height:18.19px;line-height:18.19px">1214.4</div>
<div class="tl" style="left:632.80px;top:113.40px;width:1.8px;height:439.41px"></div>
<div class="tl" style="left:697.30px;top:113.40px;width:1.8px;height:439.41px"></div>
<div class="tl" style="left:754.45px;top:133.50px;width:1.8px;height:419.31px"></div>
<div class="tl" style="left:809.40px;top:133.50px;width:1.8px;height:419.31px"></div>
<div class="tl" style="left:855.30px;top:133.50px;width:1.8px;height:419.31px"></div>
<div class="tl" style="left:934.15px;top:133.50px;width:1.8px;height:419.31px"></div>
<div class="tl" style="left:1021.75px;top:133.50px;width:1.8px;height:419.31px"></div>
<div class="tl" style="left:1108.15px;top:113.40px;width:1.8px;height:439.41px"></div>
<div class="tl" style="left:855.30px;top:113.40px;width:1.8px;height:21.90px"></div>
<div class="tl" style="left:632.80px;top:113.40px;width:477.15px;height:1.8px"></div>
<div class="tl" style="left:697.30px;top:133.50px;width:412.65px;height:1.8px"></div>
<div class="tl" style="left:632.80px;top:167.40px;width:477.15px;height:1.8px"></div>
<div class="tl" style="left:632.80px;top:187.59px;width:477.15px;height:1.8px"></div>
<div class="tl" style="left:632.80px;top:207.78px;width:477.15px;height:1.8px"></div>
<div class="tl" style="left:632.80px;top:227.97px;width:477.15px;height:1.8px"></div>
<div class="tl" style="left:632.80px;top:248.16px;width:477.15px;height:1.8px"></div>
<div class="tl" style="left:632.80px;top:268.35px;width:477.15px;height:1.8px"></div>
<div class="tl" style="left:632.80px;top:288.54px;width:477.15px;height:1.8px"></div>
<div class="tl" style="left:632.80px;top:308.73px;width:477.15px;height:1.8px"></div>
<div class="tl" style="left:632.80px;top:328.92px;width:477.15px;height:1.8px"></div>
<div class="tl" style="left:632.80px;top:349.11px;width:477.15px;height:1.8px"></div>
<div class="tl" style="left:632.80px;top:369.30px;width:477.15px;height:1.8px"></div>
<div class="tl" style="left:632.80px;top:389.49px;width:477.15px;height:1.8px"></div>
<div class="tl" style="left:632.80px;top:409.68px;width:477.15px;height:1.8px"></div>
<div class="tl" style="left:632.80px;top:429.87px;width:477.15px;height:1.8px"></div>
<div class="tl" style="left:632.80px;top:450.06px;width:477.15px;height:1.8px"></div>
<div class="tl" style="left:632.80px;top:470.25px;width:477.15px;height:1.8px"></div>
<div class="tl" style="left:632.80px;top:490.44px;width:477.15px;height:1.8px"></div>
<div class="tl" style="left:632.80px;top:510.63px;width:477.15px;height:1.8px"></div>
<div class="tl" style="left:632.80px;top:530.82px;width:477.15px;height:1.8px"></div>
<div class="tl" style="left:632.80px;top:551.01px;width:477.15px;height:1.8px"></div>
<div class="tt" style="left:638.7px;top:115.3px;height:54.000000000000014px;line-height:54.000000000000014px"><span class="th">ระยะเวลา</span></div>
<div class="tt tc" style="left:698.2px;width:158.0px;top:114.3px;height:20.10000000000001px;line-height:20.10000000000001px"><span class="th">จำนวนวัน</span></div>
<div class="tt tc" style="left:856.2px;width:252.8499999999999px;top:114.3px;height:20.10000000000001px;line-height:20.10000000000001px"><span class="th">ชั่วโมงการทำงานต่อสัปดาห์</span></div>
<div class="tt h2" style="left:703.20px;top:138.70000000000002px"><span class="th">วันตาม</span><br><span class="th">ปฏิทิน</span></div>
<div class="tt" style="left:760.35px;top:136.4px;height:33.900000000000006px;line-height:33.900000000000006px"><span class="th">วันทำงาน</span></div>
<div class="tt" style="left:815.30px;top:136.4px;height:33.900000000000006px;line-height:33.900000000000006px"><span class="th">วันหยุด</span></div>
<div class="tt h2" style="left:861.20px;top:138.70000000000002px"><span class="th">สัปดาห์ละ 40</span><br><span class="th">ชั่วโมง</span></div>
<div class="tt h2" style="left:940.05px;top:138.70000000000002px"><span class="th">36 ชั่วโมงต่อ</span><br><span class="th">สัปดาห์</span></div>
<div class="tt h2" style="left:1027.65px;top:138.70000000000002px"><span class="th">24 ชั่วโมงต่อ</span><br><span class="th">สัปดาห์</span></div>
<div class="legend"></div>
<div class="ld" style="left:600px;top:575.60px;width:89.5px">3 พ.ค. 2022</div><div class="lb" style="left:689px;top:575.60px"></div><div class="lt" style="left:696px;top:575.60px">วันอีด</div>
<div class="ld" style="left:600px;top:586.85px;width:89.5px">4 พ.ค. 2022</div><div class="lb" style="left:689px;top:586.85px"></div><div class="lt" style="left:696px;top:586.85px">วันหยุด <span class="ea">Eid Al Fitr</span></div>
<div class="ld" style="left:600px;top:598.10px;width:89.5px">5 พ.ค. 2022</div><div class="lb" style="left:689px;top:598.10px"></div><div class="lt" style="left:696px;top:598.10px">วันหยุด <span class="ea">Eid Al Fitr</span></div>
<div class="ld" style="left:600px;top:609.35px;width:89.5px">6 พ.ค. 2022</div><div class="lb" style="left:689px;top:609.35px"></div><div class="lt" style="left:696px;top:609.35px">วันหยุด <span class="ea">Eid Al Fitr</span></div>
<div class="ld" style="left:600px;top:620.60px;width:89.5px">9 ก.ค. 2022</div><div class="lb" style="left:689px;top:620.60px"></div><div class="lt" style="left:696px;top:620.60px">วันอาราฟัด</div>
<div class="ld" style="left:726px;top:575.60px;width:99.5px">10 ก.ค. 2022</div><div class="lb" style="left:825.5px;top:575.60px"></div><div class="lt" style="left:832.5px;top:575.60px">งานเลี้ยงของ Mischief</div>
<div class="ld" style="left:726px;top:586.85px;width:99.5px">11 ก.ค. 2022</div><div class="lb" style="left:825.5px;top:586.85px"></div><div class="lt" style="left:832.5px;top:586.85px">งานเลี้ยงวันหยุด Mischief</div>
<div class="ld" style="left:726px;top:598.10px;width:99.5px">12 ก.ค. 2022</div><div class="lb" style="left:825.5px;top:598.10px"></div><div class="lt" style="left:832.5px;top:598.10px">งานเลี้ยงวันหยุด Mischief</div>
<div class="ld" style="left:726px;top:609.35px;width:99.5px">22 ก.ย. 2022</div><div class="lb" style="left:825.5px;top:609.35px"></div><div class="lt" style="left:832.5px;top:609.35px">วันชาติซาอุดีอาระเบีย</div>
</body></html>
